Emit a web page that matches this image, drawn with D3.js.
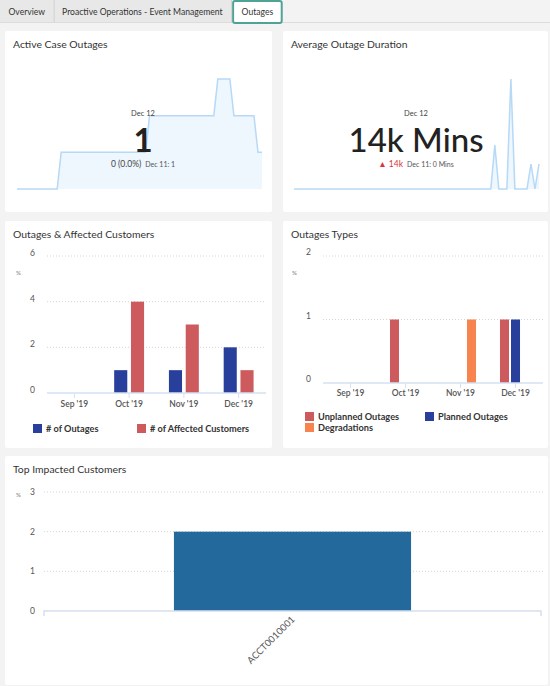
<!DOCTYPE html>
<html>
<head>
<meta charset="utf-8">
<script src="https://cdn.jsdelivr.net/npm/d3@7"></script>
<style>
  body { margin: 0; background: #f3f3f3; }
  svg text { font-family: Lato, "Open Sans", sans-serif; }
</style>
</head>
<body>
<svg id="dash" width="550" height="686"></svg>
<script>
// --- data ---
const TABS = ["Overview", "Proactive Operations - Event Management", "Outages"];
const ACTIVE_TAB = "Outages";

// daily values, last 62 days up to Dec 12
const activeCases = [
  0,0,0,0,0,0,0,0,0,0,0,
  1,1,1,1,1,1,1,1,1,1,1,1,1,1,1,1,1,1,1,1,1,1,
  2,2,2,2,2,2,2,2,2,2,2,2,2,2,2,2,2,
  3,3,3,3,
  2,2,2,2,2,2,
  1,1
];
const avgDuration = [
  0,0,0,0,0,0,0,0,0,0,0,0,0,0,0,0,0,0,0,0,
  0,0,0,0,0,0,0,0,0,0,0,0,0,0,0,0,0,0,0,0,
  0,0,0,0,0,0,0,0,0,0,24600,0,0,0,61600,0,0,0,0,14000,
  0,14000
];

const MONTHS = ["Sep '19", "Oct '19", "Nov '19", "Dec '19"];
const outagesCount = [0, 1, 1, 2];
const affectedCustomers = [0, 4, 3, 1];
const unplannedOutages = [0, 1, 0, 1];
const plannedOutages = [0, 0, 0, 1];
const degradations = [0, 0, 1, 0];
const TICKS_OUTAGES = [0, 2, 4, 6];
const TICKS_TYPES = [0, 1, 2];

const CUSTOMERS = ["ACCT0010001"];
const customerOutages = [2];
const TICKS_CUSTOMERS = [0, 1, 2, 3];

// --- colors ---
const C = {
  blue: "#283f9c", red: "#cd5a5c", orange: "#f7844f", teal: "#24699c",
  spark: "#b6d9f6", sparkFill: "#eef6fe", axis: "#d5e0f2", grid: "#d6d6d6",
  text: "#333", tick: "#555"
};

const svg = d3.select("#dash");

// --- tabs ---
const tabG = svg.append("g");
tabG.append("line").attr("x1", 0).attr("x2", 550).attr("y1", 22.5).attr("y2", 22.5)
  .attr("stroke", "#dcdcdc");
let tx = 0;
TABS.forEach(t => {
  const active = t === ACTIVE_TAB;
  const txt = tabG.append("text").attr("y", 15).attr("font-size", 8.6).attr("fill", C.text).text(t);
  const w = txt.node().getComputedTextLength() + 17;
  if (active) tx += 2;
  tabG.insert("rect", "text")
    .attr("x", tx).attr("y", active ? 1 : 0)
    .attr("width", w).attr("height", 22)
    .attr("rx", active ? 2 : 0)
    .attr("fill", active ? "#fff" : "#e8e8e8")
    .attr("stroke", active ? "#4fa394" : "none")
    .attr("stroke-width", 2);
  txt.attr("x", tx + w / 2).attr("text-anchor", "middle");
  if (!active) tabG.append("line").attr("x1", tx + w + 0.5).attr("x2", tx + w + 0.5)
    .attr("y1", 0).attr("y2", 22).attr("stroke", "#cfcfcf");
  tx += w;
});

// --- cards ---
function card(x, y, w, h, title) {
  svg.append("rect").attr("x", x).attr("y", y).attr("width", w).attr("height", h)
    .attr("rx", 2).attr("fill", "#fff");
  svg.append("text").attr("x", x + 8).attr("y", y + 17)
    .attr("font-size", 10.4).attr("fill", C.text).text(title);
}
card(5, 31, 267, 181, "Active Case Outages");
card(283, 31, 265, 181, "Average Outage Duration");
card(5, 221, 267, 227, "Outages & Affected Customers");
card(283, 221, 265, 227, "Outages Types");
card(5, 456, 543, 229, "Top Impacted Customers");

// --- sparkline KPI ---
function sparkline(values, x0, x1) {
  const x = d3.scaleLinear().domain([0, values.length - 1]).range([x0, x1]);
  const y = d3.scaleLinear().domain([0, d3.max(values)]).range([189, 79]);
  const area = d3.area().x((d, i) => x(i)).y0(y(0)).y1(d => y(d));
  const line = d3.line().x((d, i) => x(i)).y(d => y(d));
  svg.append("path").datum(values).attr("d", area).attr("fill", C.sparkFill);
  svg.append("path").datum(values).attr("d", line)
    .attr("fill", "none").attr("stroke", C.spark).attr("stroke-width", 1.5);
}

function kpi(cx, big, bigWeight, delta, deltaColor, prev) {
  svg.append("text").attr("x", cx).attr("y", 116).attr("text-anchor", "middle")
    .attr("font-size", 7.5).attr("fill", "#444").text("Dec 12");
  svg.append("text").attr("x", cx).attr("y", 152).attr("text-anchor", "middle")
    .attr("font-size", 33).attr("font-weight", bigWeight).attr("fill", "#222").text(big);
  const sub = svg.append("text").attr("x", cx).attr("y", 167).attr("text-anchor", "middle");
  sub.append("tspan").attr("font-size", 8.5).attr("fill", deltaColor).text(delta);
  sub.append("tspan").attr("dx", 4).attr("font-size", 7).attr("fill", "#555").text(prev);
}

sparkline(activeCases, 17, 262);
kpi(143, "1", 700, "0 (0.0%)", "#444", "Dec 11: 1");
sparkline(avgDuration, 294, 539);
kpi(416, "14k Mins", 500, "\u25B2 14k", "#d9363e", "Dec 11: 0 Mins");

// --- shared axis helpers ---
function yGrid(y, ticks, xa, xb, labelX, dy) {
  ticks.forEach(t => {
    if (t > 0) svg.append("line").attr("x1", xa).attr("x2", xb)
      .attr("y1", y(t)).attr("y2", y(t))
      .attr("stroke", C.grid).attr("stroke-dasharray", "1,2");
    svg.append("text").attr("x", labelX).attr("y", y(t) + dy).attr("text-anchor", "end")
      .attr("font-size", 8.5).attr("fill", C.tick).text(t);
  });
}
function unitMark(x, y) {
  svg.append("text").attr("x", x).attr("y", y).attr("font-size", 6)
    .attr("fill", "#999").attr("font-weight", 700).text("%");
}
function bandAxis(x, y0, labelY) {
  const [a, b] = x.range();
  svg.append("line").attr("x1", a).attr("x2", b).attr("y1", y0).attr("y2", y0)
    .attr("stroke", C.axis).attr("stroke-width", 1.5);
  x.domain().forEach(m => {
    const cx = x(m) + x.bandwidth() / 2;
    svg.append("line").attr("x1", cx).attr("x2", cx).attr("y1", y0).attr("y2", y0 + 5)
      .attr("stroke", C.axis);
    svg.append("text").attr("x", cx).attr("y", labelY).attr("text-anchor", "middle")
      .attr("font-size", 8.5).attr("font-weight", 600).attr("fill", C.tick).text(m);
  });
}
function legend(items) {
  items.forEach(it => {
    svg.append("rect").attr("x", it.x).attr("y", it.y).attr("width", 9).attr("height", 9)
      .attr("fill", it.color);
    svg.append("text").attr("x", it.x + 13).attr("y", it.y + 8)
      .attr("font-size", 9.2).attr("font-weight", 700).attr("fill", C.text).text(it.label);
  });
}
function groupedBars(x, xs, y, seriesList) {
  seriesList.forEach(s => {
    const data = MONTHS.map((m, i) => ({ m, v: s.values[i] })).filter(d => d.v > 0);
    svg.append("g").selectAll("rect").data(data).join("rect")
      .attr("x", d => x(d.m) + xs(s.key))
      .attr("width", xs.bandwidth())
      .attr("y", d => y(d.v))
      .attr("height", d => y(0) - y(d.v))
      .attr("fill", s.color);
  });
}

// --- Outages & Affected Customers ---
{
  const x = d3.scaleBand().domain(MONTHS).range([47, 266]);
  const y = d3.scaleLinear().domain([0, 6]).range([393, 256]);
  const series = [
    { key: "out", values: outagesCount, color: C.blue },
    { key: "aff", values: affectedCustomers, color: C.red }
  ];
  const xs = d3.scaleBand().domain(series.map(s => s.key)).range([0, x.bandwidth()])
    .paddingInner(0.22).paddingOuter(0.74);
  yGrid(y, TICKS_OUTAGES, 47, 266, 35, 0);
  unitMark(16, 275);
  groupedBars(x, xs, y, series);
  bandAxis(x, 393, 407);
  legend([
    { x: 33, y: 424, color: C.blue, label: "# of Outages" },
    { x: 137, y: 424, color: C.red, label: "# of Affected Customers" }
  ]);
}

// --- Outages Types ---
{
  const x = d3.scaleBand().domain(MONTHS).range([323, 543]);
  const y = d3.scaleLinear().domain([0, 2]).range([383, 256]);
  const series = [
    { key: "unplanned", values: unplannedOutages, color: C.red },
    { key: "planned", values: plannedOutages, color: C.blue },
    { key: "degradations", values: degradations, color: C.orange }
  ];
  const xs = d3.scaleBand().domain(series.map(s => s.key)).range([0, x.bandwidth()])
    .paddingInner(0.18).paddingOuter(1.09);
  yGrid(y, TICKS_TYPES, 323, 543, 311, -1);
  unitMark(292, 275);
  groupedBars(x, xs, y, series);
  bandAxis(x, 383, 396);
  legend([
    { x: 305, y: 412, color: C.red, label: "Unplanned Outages" },
    { x: 425, y: 412, color: C.blue, label: "Planned Outages" },
    { x: 305, y: 423, color: C.orange, label: "Degradations" }
  ]);
}

// --- Top Impacted Customers ---
{
  const x = d3.scaleBand().domain(CUSTOMERS).range([44, 541]).padding(0.354);
  const y = d3.scaleLinear().domain([0, 3]).range([611, 492]);
  yGrid(y, TICKS_CUSTOMERS, 44, 543, 35, 3);
  unitMark(16, 497);
  svg.append("g").selectAll("rect").data(CUSTOMERS).join("rect")
    .attr("x", d => x(d)).attr("width", x.bandwidth())
    .attr("y", (d, i) => y(customerOutages[i]))
    .attr("height", (d, i) => y(0) - y(customerOutages[i]))
    .attr("fill", C.teal);
  svg.append("path").attr("d", `M44,616V611H541V616`)
    .attr("fill", "none").attr("stroke", C.axis).attr("stroke-width", 1.5);
  CUSTOMERS.forEach(c => {
    const cx = x(c) + x.bandwidth() / 2;
    svg.append("text")
      .attr("transform", `translate(${cx + 3},${620}) rotate(-45)`)
      .attr("text-anchor", "end").attr("font-size", 9.5).attr("fill", C.tick).text(c);
  });
}
</script>
</body>
</html>
